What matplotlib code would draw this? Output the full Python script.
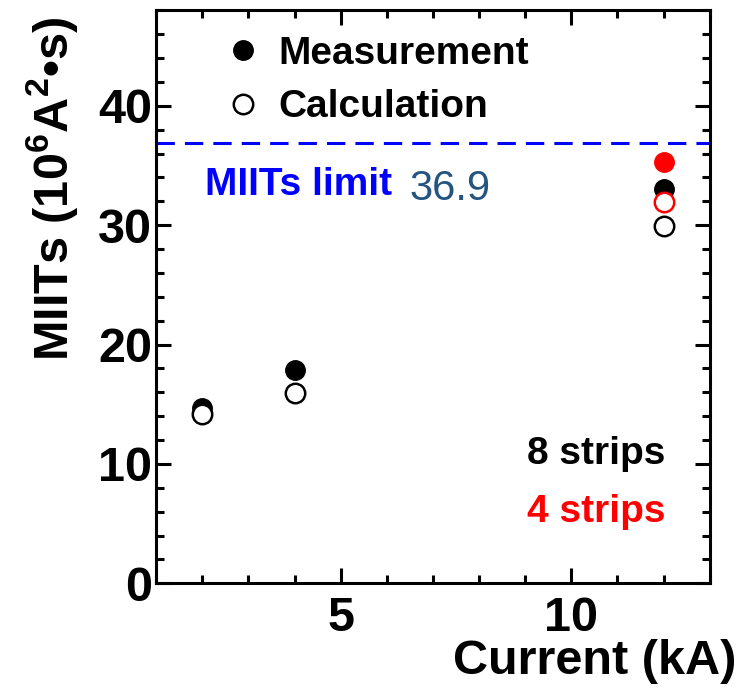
import matplotlib.pyplot as plt
from matplotlib.ticker import MultipleLocator

# datos
current_8 = [2, 4, 12]
meas_8 = [14.7, 17.9, 33.0]
calc_8 = [14.2, 15.9, 29.9]
current_4 = [12]
meas_4 = [35.3]
calc_4 = [31.9]
miits_limit = 36.9

plt.rcParams['font.family'] = ['Liberation Sans', 'DejaVu Sans']
plt.rcParams['mathtext.fontset'] = 'custom'
plt.rcParams['mathtext.rm'] = 'Liberation Sans:bold'
plt.rcParams['mathtext.bf'] = 'Liberation Sans:bold'

fig = plt.figure(figsize=(7.4, 6.87), dpi=100)
ax = fig.add_axes([0.211, 0.151, 0.748, 0.834])

ax.plot(current_8, meas_8, 'o', color='black', ms=14, label='Measurement')
ax.plot(current_8, calc_8, 'o', mfc='white', mec='black', mew=1.8, ms=14, label='Calculation')
ax.plot(current_4, meas_4, 'o', color='red', ms=14)
ax.plot(current_4, calc_4, 'o', mfc='white', mec='red', mew=1.8, ms=14)

ax.axhline(miits_limit, color='blue', lw=2.2, dashes=(6, 3.3))

ax.set_xlim(1, 13)
ax.set_ylim(0, 48)
ax.xaxis.set_major_locator(MultipleLocator(5))
ax.xaxis.set_minor_locator(MultipleLocator(1))
ax.yaxis.set_major_locator(MultipleLocator(10))
ax.yaxis.set_minor_locator(MultipleLocator(2))
ax.tick_params(which='both', direction='in', top=True, right=True, width=2.2)
ax.tick_params(which='major', length=11, labelsize=35)
ax.tick_params(axis='x', which='major', pad=9)
ax.tick_params(axis='y', which='major', pad=3)
ax.tick_params(which='minor', length=6)
for lab in ax.get_xticklabels() + ax.get_yticklabels():
    lab.set_fontweight('bold')
for s in ax.spines.values():
    s.set_linewidth(2.2)

ax.legend(loc='upper left', bbox_to_anchor=(0.051, 1.0165), frameon=False,
          prop={'size': 28, 'weight': 'bold'}, handletextpad=0.33,
          labelspacing=0.45, handlelength=1.2)

ax.text(2.05, 33.4, 'MIITs limit', fontsize=28, fontweight='bold',
        color='blue', va='center')
ax.text(6.5, 33.0, '36.9', fontsize=30, color='#245580', va='center')
ax.text(12.05, 10.8, '8 strips', ha='right', va='center', fontsize=28,
        fontweight='bold', color='black')
ax.text(12.05, 6.0, '4 strips', ha='right', va='center', fontsize=28,
        fontweight='bold', color='red')

ax.set_ylabel('MIITs (10$^{6}$A$^{2}$•s)', fontsize=35, fontweight='bold')
ax.yaxis.set_label_coords(-0.136, 0.689)
fig.text(0.995, 0.005, 'Current (kA)', ha='right', va='bottom', fontsize=35,
         fontweight='bold')

fig.savefig('out.png', dpi=100)
